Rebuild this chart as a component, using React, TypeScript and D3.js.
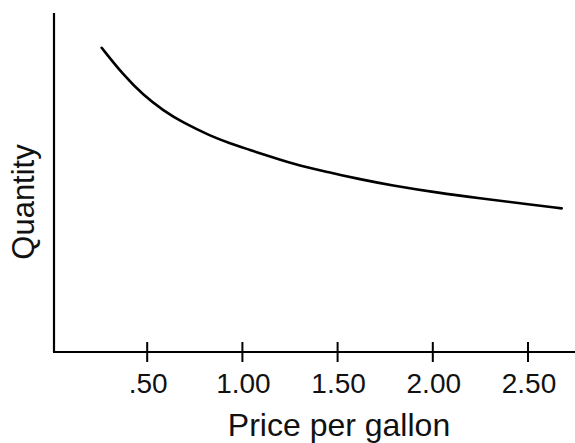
import React from "react";
import * as d3 from "d3";

const prices = [0.261, 0.374, 0.479, 0.585, 0.69, 0.83, 0.935, 1.04, 1.145, 1.303, 1.46, 1.618, 1.775, 2.038, 2.248, 2.458, 2.677];
const quantities = [89.7, 81.7, 75.7, 71.1, 67.5, 63.7, 61.4, 59.5, 57.5, 54.7, 52.8, 50.8, 49.1, 46.7, 45.2, 43.7, 42.2];
const tickValues = [0.5, 1.0, 1.5, 2.0, 2.5];
const tickLabels = [".50", "1.00", "1.50", "2.00", "2.50"];
const xTitle = "Price per gallon";
const yTitle = "Quantity";

const W = 575;
const H = 443;
const FONT = "'Liberation Sans', Arial, Helvetica, sans-serif";

export default function App() {
  const x = d3.scaleLinear().domain([0, 2.5]).range([52, 528]);
  const y = d3.scaleLinear().domain([0, 100]).range([351, 13]);
  const axisX = 54;
  const axisY = 352;

  const pts = prices.map((p, i) => [x(p), y(quantities[i])] as [number, number]);
  const line = d3.line().curve(d3.curveBasis)(pts) || "";

  return (
    <svg
      width={W}
      height={H}
      viewBox={`0 0 ${W} ${H}`}
      style={{ position: "absolute", left: 0, top: 0, background: "#fff" }}
    >
      <rect x={0} y={0} width={W} height={H} fill="#fff" />
      <line x1={axisX} y1={y(100)} x2={axisX} y2={axisY} stroke="#000" strokeWidth={2.2} />
      <line x1={axisX - 1} y1={axisY} x2={W} y2={axisY} stroke="#000" strokeWidth={2.2} />
      {tickValues.map((t, i) => (
        <g key={t}>
          <line x1={x(t)} x2={x(t)} y1={axisY - 10} y2={axisY + 10} stroke="#000" strokeWidth={2} />
          <text
            x={x(t) + 1}
            y={393}
            textAnchor="middle"
            fontFamily={FONT}
            fontSize={28}
            fill="#111"
          >
            {tickLabels[i]}
          </text>
        </g>
      ))}
      <path d={line} fill="none" stroke="#000" strokeWidth={2.6} strokeLinecap="round" />
      <text
        x={339}
        y={436}
        textAnchor="middle"
        fontFamily={FONT}
        fontSize={32}
        fill="#111"
      >
        {xTitle}
      </text>
      <text
        transform={`translate(34, 202) rotate(-90)`}
        textAnchor="middle"
        fontFamily={FONT}
        fontSize={31}
        fill="#111"
      >
        {yTitle}
      </text>
    </svg>
  );
}
